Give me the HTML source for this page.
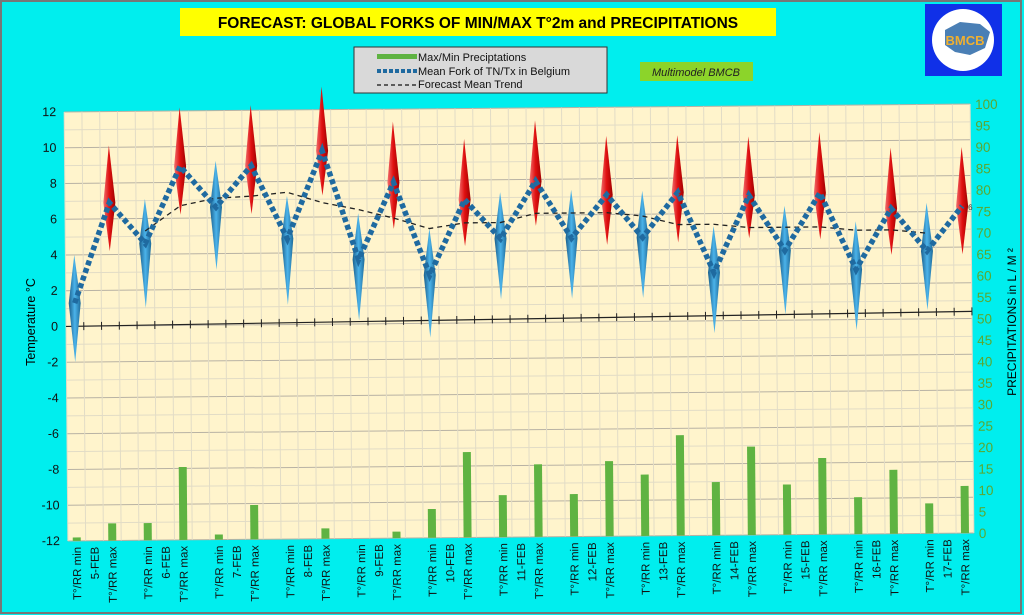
<!DOCTYPE html>
<html><head><meta charset="utf-8"><style>
html,body{margin:0;padding:0;width:1024px;height:615px;overflow:hidden;background:#00eeee;font-family:"Liberation Sans",sans-serif}
</style></head><body>
<svg id="chart" width="1024" height="615" viewBox="0 0 1024 615" xmlns="http://www.w3.org/2000/svg" font-family="Liberation Sans, sans-serif">
<defs>
<linearGradient id="gBlue" x1="0" x2="1" y1="0" y2="0"><stop offset="0" stop-color="#1b5f8c"/><stop offset="0.5" stop-color="#4bb3ea"/><stop offset="1" stop-color="#1d6a9a"/></linearGradient>
<linearGradient id="gRed" x1="0" x2="1" y1="0" y2="0"><stop offset="0" stop-color="#f07070"/><stop offset="0.5" stop-color="#e01010"/><stop offset="1" stop-color="#a00000"/></linearGradient>
</defs>
<rect x="0" y="0" width="1024" height="615" fill="#00eeee"/>
<rect x="1" y="1" width="1020" height="612" fill="none" stroke="#777" stroke-width="2"/>
<rect x="180" y="8" width="596" height="28" fill="#ffff00"/>
<text x="478" y="28" text-anchor="middle" font-size="15.5" font-weight="bold" fill="#000">FORECAST: GLOBAL FORKS OF  MIN/MAX T°2m and PRECIPITATIONS</text>
<g>
<rect x="925" y="4" width="77" height="72" fill="#1030e8"/>
<circle cx="963" cy="40" r="31" fill="#fff"/>
<path d="M945 30 L960 22 L980 24 L990 32 L985 48 L970 55 L955 52 L945 45 Z" fill="#4a7fb5"/>
<text x="965" y="45" text-anchor="middle" font-size="13" font-weight="bold" fill="#f0b030">BMCB</text>
</g>
<g>
<rect x="354" y="47" width="253" height="46" fill="#d9d9d9" stroke="#333" stroke-width="1"/>
<rect x="377" y="54" width="40" height="5" fill="#5fb342"/>
<text x="418" y="61" font-size="11" fill="#111">Max/Min Preciptations</text>
<line x1="377" y1="71" x2="417" y2="71" stroke="#1f6aa0" stroke-width="4" stroke-dasharray="4 2"/>
<text x="418" y="75" font-size="11" fill="#111">Mean Fork of TN/Tx in Belgium</text>
<line x1="377" y1="85" x2="417" y2="85" stroke="#111" stroke-width="1.2" stroke-dasharray="4 3"/>
<text x="418" y="88" font-size="11" fill="#111">Forecast Mean Trend</text>
</g>
<rect x="640" y="62" width="113" height="19" fill="#8cd42a"/>
<text x="696" y="76" text-anchor="middle" font-size="11" font-style="italic" fill="#222">Multimodel BMCB</text>
<text transform="translate(35,322) rotate(-90)" text-anchor="middle" font-size="12.5" fill="#000">Temperature  °C</text>
<text transform="translate(1016,322) rotate(-90)" text-anchor="middle" font-size="12" fill="#000">PRECIPITATIONS in L / M ²</text>
<g id="plot" transform="rotate(-0.5 519 322)"></g>
</svg>
<script>
const dayLabels = ["5-FEB","6-FEB","7-FEB","8-FEB","9-FEB","10-FEB","11-FEB","12-FEB","13-FEB","14-FEB","15-FEB","16-FEB","17-FEB"];
const minMean = [1.3,4.6,6.6,4.8,3.6,2.7,4.7,4.7,4.7,2.7,3.9,2.8,3.8];
const minTop  = [4.0,7.1,9.2,7.2,6.2,5.3,7.3,7.4,7.3,5.3,6.4,5.5,6.5];
const minBot  = [-2.0,1.0,3.1,1.1,0.2,-0.8,1.3,1.3,1.3,-0.7,0.3,-0.6,0.5];
const maxMean = [6.9,8.9,8.9,9.7,7.9,6.9,7.9,7.1,7.2,7.0,7.1,6.2,6.3];
const maxTop  = [10.1,12.2,12.3,13.3,11.3,10.3,11.3,10.4,10.4,10.3,10.5,9.6,9.6];
const maxBot  = [4.2,6.2,6.2,7.2,5.3,4.3,5.4,4.3,4.4,4.6,4.5,3.6,3.6];
const precipMin = [0.8,4,1.2,0,0,6.7,9.8,9.9,14.3,12.4,11.7,8.6,7.0];
const precipMax = [4,17,8,2.4,1.5,19.9,16.9,17.5,23.4,20.6,17.8,14.9,11.0];
const trend = [null,null,null,null,5.3,null,6.7,null,7.1,null,7.2,null,7.4,null,6.8,null,6.4,null,5.9,null,5.3,null,5.6,null,5.6,null,6.1,null,6.1,null,6.1,null,5.9,null,5.4,null,5.4,null,5.2,null,5.2,null,5.2,null,5.0,null,5.0,null,4.8,null,null];
const zeroLine = [0.0,0.4];
const tempTicks = [12,10,8,6,4,2,0,-2,-4,-6,-8,-10,-12];
const precipTicks = [100,95,90,85,80,75,70,65,60,55,50,45,40,35,30,25,20,15,10,5,0];

const NS="http://www.w3.org/2000/svg";
const svg=document.getElementById('chart');
const plot=document.getElementById('plot');
const L=66,R=972,T=108,B=537;
const NSLOT=51, sw=(R-L)/NSLOT;
const xs=i=>L+(i+0.5)*sw;
const yT=v=>T+(12-v)*(B-T)/24;
const yP=v=>B-v*(B-T)/100;
function mk(tag,attrs,parent){const e=document.createElementNS(NS,tag);for(const k in attrs)e.setAttribute(k,attrs[k]);(parent||plot).appendChild(e);return e;}

mk('rect',{x:L,y:T,width:R-L,height:B-T,fill:'#fff4cc'});
for(let v=-12;v<=12;v++){const l=mk('line',{x1:L,x2:R,y1:yT(v),y2:yT(v),stroke:v%2===0?'#b8b2a4':'#e2dcc6','stroke-width':1});

}
for(let i=0;i<=NSLOT;i++){const l=mk('line',{x1:L+i*sw,x2:L+i*sw,y1:T,y2:B,stroke:'#e2dcc6','stroke-width':1});

}

tempTicks.forEach(v=>{const t=mk('text',{x:L-8,y:yT(v)+4,'text-anchor':'end','font-size':12.5,fill:'#111'});t.textContent=v;

});
precipTicks.forEach(v=>{const t=mk('text',{x:R+5,y:yP(v)+5,'font-size':13.5,fill:'#5aa832'});t.textContent=v;

});

// bars
dayLabels.forEach((d,k)=>{
 [[precipMin[k],4*k],[precipMax[k],4*k+2]].forEach(([v,s])=>{
  if(v<=0)return;
  const b=mk('rect',{x:xs(s)-4,y:yP(v),width:8,height:yP(0)-yP(v),fill:'#5fb342'});
  
  
 });
});

// x labels
dayLabels.forEach((d,k)=>{
 [['T°/RR min',4*k],[d,4*k+1],['T°/RR max',4*k+2]].forEach(([txt,s])=>{
  const t=mk('text',{transform:`translate(${xs(s)+4},${B+6}) rotate(-90)`,'text-anchor':'end','font-size':11.5,fill:'#111'});
  t.textContent=txt;
  
  
 });
});

// zero line with ticks
const z0=yT(zeroLine[0]),z1=yT(zeroLine[1]);
const zl=mk('line',{x1:L,y1:z0,x2:R,y2:z1,stroke:'#222','stroke-width':1.2});


for(let i=0;i<NSLOT;i++){const x=xs(i)+sw/2, y=z0+(z1-z0)*(x-L)/(R-L);
 const tk=mk('line',{x1:x,x2:x,y1:y-4,y2:y+4,stroke:'#222','stroke-width':1});
 
 }

// diamonds
function diamond(s,top,mean,bot,fill,name){
 const x=xs(s),w=6;
 const p=mk('path',{d:`M${x} ${yT(top)} L${x+w} ${yT(mean)} L${x} ${yT(bot)} L${x-w} ${yT(mean)} Z`,fill:fill});
 
 
}
dayLabels.forEach((d,k)=>{
 diamond(4*k,minTop[k],minMean[k],minBot[k],'url(#gBlue)','tmin-fork');
 diamond(4*k+2,maxTop[k],maxMean[k],maxBot[k],'url(#gRed)','tmax-fork');
});

// trend
let td='';trend.forEach((v,i)=>{if(v===null)return;td+=(td?'L':'M')+xs(i)+' '+yT(v)+' ';});
const tr=mk('path',{d:td,fill:'none',stroke:'#222','stroke-width':1.3,'stroke-dasharray':'5 4'});



// mean fork line
let md='';dayLabels.forEach((d,k)=>{md+=(md?'L':'M')+xs(4*k)+' '+yT(minMean[k])+' L'+xs(4*k+2)+' '+yT(maxMean[k])+' ';});
const ml=mk('path',{d:md,fill:'none',stroke:'#1f6aa0','stroke-width':5.5,'stroke-dasharray':'5 3'});



const lbl=mk('text',{x:xs(50)+6,y:yT(maxMean[12])+4,'font-size':8,fill:'#333'});
lbl.textContent=Math.round(maxMean[12]);


</script>
</body></html>
